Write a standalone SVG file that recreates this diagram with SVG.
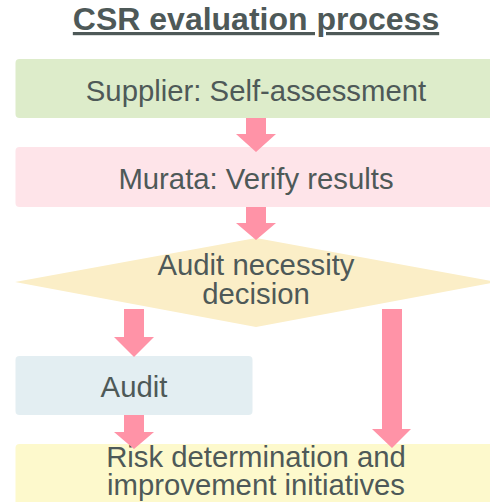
<svg xmlns="http://www.w3.org/2000/svg" width="490" height="502" viewBox="0 0 490 502">
<defs>
<style>
text{font-family:"Liberation Sans",Arial,sans-serif;fill:#4e5958;text-anchor:middle;}
.t{font-size:29.3px;}
.arrow{fill:#ff93a7;}
</style>
</defs>
<rect width="490" height="502" fill="#ffffff"/>
<text x="256" y="30" style="font-size:32px;font-weight:bold;text-decoration:underline;">CSR evaluation process</text>
<g id="node-supplier">
<rect x="15.5" y="59" width="480" height="59" rx="4" fill="#ddecca"/>
<text class="t" x="256" y="101">Supplier: Self-assessment</text>
</g>
<g id="node-murata">
<rect x="15.5" y="147" width="480" height="60" rx="4" fill="#fee4e9"/>
<text class="t" x="256" y="189">Murata: Verify results</text>
</g>
<g id="node-decision">
<polygon points="256,238 497,282 256,327 15,282" fill="#fbeec7"/>
<text class="t" x="256" y="275">Audit necessity</text>
<text class="t" x="256" y="304">decision</text>
</g>
<g id="node-audit">
<rect x="15.5" y="356" width="237" height="59" rx="4" fill="#e3eef2"/>
<text class="t" x="134" y="397">Audit</text>
</g>
<g id="node-risk">
<rect x="15.5" y="444" width="480" height="70" rx="4" fill="#fdf9cc"/>
<text class="t" x="256" y="467">Risk determination and</text>
<text class="t" x="256" y="495">improvement initiatives</text>
</g>
<g id="connectors">
<polygon class="arrow" points="246,118 266,118 266,134 276,134 256,152 236,134 246,134"/>
<polygon class="arrow" points="246,207 266,207 266,223 276,223 256,240 236,223 246,223"/>
<polygon class="arrow" points="124,309 144,309 144,337 154,337 134,357 114,337 124,337"/>
<polygon class="arrow" points="382,309 402,309 402,429 411,429 392,448 372,429 382,429"/>
<polygon class="arrow" points="124,415 144,415 144,432 154,432 134,449 114,432 124,432"/>
</g>
</svg>
